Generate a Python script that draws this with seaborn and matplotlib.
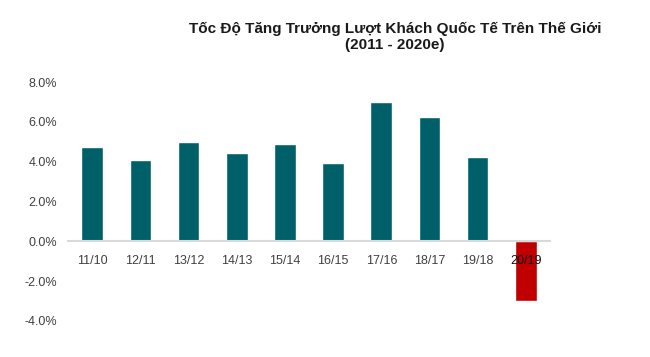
"""Bar chart of international tourist arrival growth (2011 - 2020e)."""

import matplotlib

matplotlib.use("Agg")
import matplotlib.pyplot as plt
import pandas as pd
import seaborn as sns
from matplotlib.ticker import FuncFormatter

periods = ["11/10", "12/11", "13/12", "14/13", "15/14", "16/15", "17/16", "18/17", "19/18", "20/19"]
growth = [4.75, 4.1, 5.0, 4.45, 4.9, 3.95, 7.0, 6.25, 4.25, -3.0]
y_ticks = [-4, -2, 0, 2, 4, 6, 8]
title = "Tốc Độ Tăng Trưởng Lượt Khách Quốc Tế Trên Thế Giới\n(2011 - 2020e)"

frame = pd.DataFrame({"period": periods, "growth": growth})
frame["kind"] = ["neg" if v < 0 else "pos" for v in growth]

sns.set_theme(style="white")
plt.rcParams["font.family"] = ["Liberation Sans Narrow", "Liberation Sans", "DejaVu Sans"]

fig = plt.figure(figsize=(6.5, 3.57), dpi=100)
ax = fig.add_axes([0.105, 0.101, 0.741, 0.669])

sns.barplot(
    data=frame,
    x="period",
    y="growth",
    hue="kind",
    palette={"pos": "#00606A", "neg": "#C00000"},
    width=0.45,
    saturation=1,
    dodge=False,
    legend=False,
    ax=ax,
)

ax.set_xlim(-0.5, len(periods) - 0.5)
ax.set_ylim(-4, 8)
ax.set_yticks(y_ticks)
ax.yaxis.set_major_formatter(FuncFormatter(lambda v, _: f"{v:.1f}%"))
ax.set_xlabel("")
ax.set_ylabel("")

# category labels drawn over the negative bar
for patch in ax.patches:
    patch.set_zorder(0.5)
ax.xaxis.set_zorder(5)

# category labels sit just under the zero line
ax.spines["bottom"].set_position(("data", 0))
ax.spines["bottom"].set_color("#D9D9D9")
ax.spines["bottom"].set_linewidth(1.5)
for side in ["left", "top", "right"]:
    ax.spines[side].set_visible(False)

ax.tick_params(axis="x", length=0, pad=10, labelsize=9, labelcolor="#404040")
ax.tick_params(axis="y", length=0, pad=8, labelsize=9, labelcolor="#404040")
for label, value in zip(ax.get_xticklabels(), growth):
    if value < 0:
        label.set_color("#111111")

fig.text(0.608, 0.94, title, ha="center", va="top", fontsize=11, fontweight="bold",
         color="#1A1A1A", linespacing=1.2)

fig.savefig("out.png", dpi=100)
plt.close(fig)
